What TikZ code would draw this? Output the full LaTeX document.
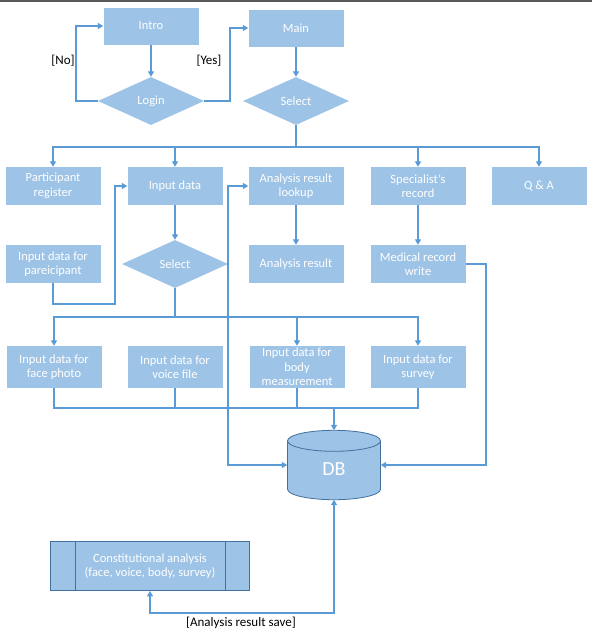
\documentclass[tikz,border=0pt]{standalone}
\usepackage{fontspec}
\setmainfont{Carlito}
\usepackage{tikz}
\usetikzlibrary{arrows.meta,calc,shapes.geometric}
\definecolor{boxblue}{HTML}{9DC3E6}
\definecolor{lineblue}{HTML}{5B9BD5}
\definecolor{dbedge}{HTML}{41719C}

\begin{document}
\begin{tikzpicture}[x=1pt, y=-1pt,
  box/.style={fill=boxblue, text=white, minimum width=95pt, minimum height=38pt, inner sep=1pt, align=center, font=\fontsize{12.5}{14.5}\selectfont},
  choice/.style={diamond, fill=boxblue, text=white, minimum width=106pt, minimum height=48pt, inner sep=0pt, font=\fontsize{12.5}{14.5}\selectfont},
  link/.style={draw=lineblue, line width=1.8pt, -{Triangle[length=5.5pt,width=6pt]}},
  wire/.style={draw=lineblue, line width=1.8pt},
  tag/.style={text=black, font=\fontsize{13}{15}\selectfont}]

\useasboundingbox (0,0) rectangle (592,640);
\draw[black!65, line width=2pt] (0,1) to (592,1);

\node[box, minimum height=37pt] (intro) at (151,26) {Intro};
\node[box, minimum height=37pt] (main) at (296,28) {Main};
\node[choice] (login) at (151,101) {Login};
\node[choice] (sel) at (296,101) {Select};

\node[box] (reg) at (53,186) {Participant\\register};
\node[box] (input) at (175,186) {Input data};
\node[box] (lookup) at (296,186) {Analysis result\\lookup};
\node[box] (spec) at (418,186) {Specialist's\\record};
\node[box] (qa) at (539,186) {Q \& A};

\node[box] (forinput) at (53,264) {Input data for\\pareicipant};
\node[choice] (sel2) at (175,264) {Select};
\node[box] (result) at (296,264) {Analysis result};
\node[box] (medical) at (418,264) {Medical record\\write};

\node[box, minimum height=42pt] (face) at (54,367) {Input data for\\face photo};
\node[box, minimum height=42pt] (voice) at (175,367) {Input data for\\voice file};
\node[box, minimum height=42pt, inner sep=0pt] (bodym) at (297,367) {Input data for\\body\\measurement};
\node[box, minimum height=42pt] (survey) at (418,367) {Input data for\\survey};

\node[minimum width=93pt, minimum height=69pt, inner sep=0pt] (db) at (334,465) {};
\coordinate (dbtop) at ($(db.north)+(0,10.5)$);
\coordinate (dbbot) at ($(db.south)-(0,10.5)$);
\draw[fill=boxblue, draw=dbedge, line width=0.8pt] (dbbot) ellipse (46.5pt and 10.5pt);
\fill[boxblue] ($(dbtop)+(-46.5,0)$) rectangle ($(dbbot)+(46.5,0)$);
\draw[dbedge, line width=0.8pt] ($(dbtop)+(-46.5,0)$) to ($(dbbot)+(-46.5,0)$);
\draw[dbedge, line width=0.8pt] ($(dbtop)+(46.5,0)$) to ($(dbbot)+(46.5,0)$);
\draw[fill=boxblue, draw=dbedge, line width=0.8pt] (dbtop) ellipse (46.5pt and 10.5pt);
\node[text=white, font=\fontsize{20}{24}\selectfont] (dbname) at (334,469) {DB};

\node[box, minimum width=199pt, minimum height=49pt, draw=dbedge, line width=0.8pt] (const) at (150,566) {Constitutional analysis\\(face, voice, body, survey)};
\draw[dbedge, line width=0.8pt] ($(const.north west)+(25,0)$) to ($(const.south west)+(25,0)$);
\draw[dbedge, line width=0.8pt] ($(const.north east)+(-25,0)$) to ($(const.south east)+(-25,0)$);

\node[tag] (no) at (63,61) {[No]};
\node[tag] (yes) at (209,61) {[Yes]};
\node[tag] (save) at (241,623) {[Analysis result save]};

\draw[link] (intro) to (login);
\draw[link] (login.west) -- ++(-22,0) |- (intro.west);
\draw[link] (login.east) -- ++(26,0) |- (main.west);
\draw[link] (main) to (sel);

\coordinate (split1) at (296,147);
\draw[wire] (sel.south) to (split1);
\draw[link] (split1) -| (reg.north);
\draw[link] (split1) -| (input.north);
\draw[link] (split1) -| (spec.north);
\draw[link] (split1) -| (qa.north);

\draw[link] (input) to (sel2);
\draw[link] (forinput.south) -- ++(0,21) -- ++(62,0) |- (input.west);
\draw[link] (lookup) to (result);
\draw[link] (spec) to (medical);

\coordinate (split2) at (175,317);
\draw[wire] (sel2.south) to (split2);
\draw[link] (split2) -| (face.north);
\draw[link] (split2) -| (bodym.north);
\draw[link] (split2) -| (survey.north);

\coordinate (merge) at (334,408);
\draw[wire] (face.south) |- (merge);
\draw[wire] (voice.south) |- (merge);
\draw[wire] (bodym.south) |- (merge);
\draw[wire] (survey.south) |- (merge);
\draw[link] (merge) to (db.north);

\draw[link, {Triangle[length=5.5pt,width=6pt]}-{Triangle[length=5.5pt,width=6pt]}] (lookup.west) -- ++(-20,0) |- (db.west);
\draw[link] (medical.east) -- ++(20,0) |- (db.east);
\draw[link, {Triangle[length=5.5pt,width=6pt]}-{Triangle[length=5.5pt,width=6pt]}] (db.south) -- ++(0,113) -| (const.south);

\end{tikzpicture}
\end{document}
